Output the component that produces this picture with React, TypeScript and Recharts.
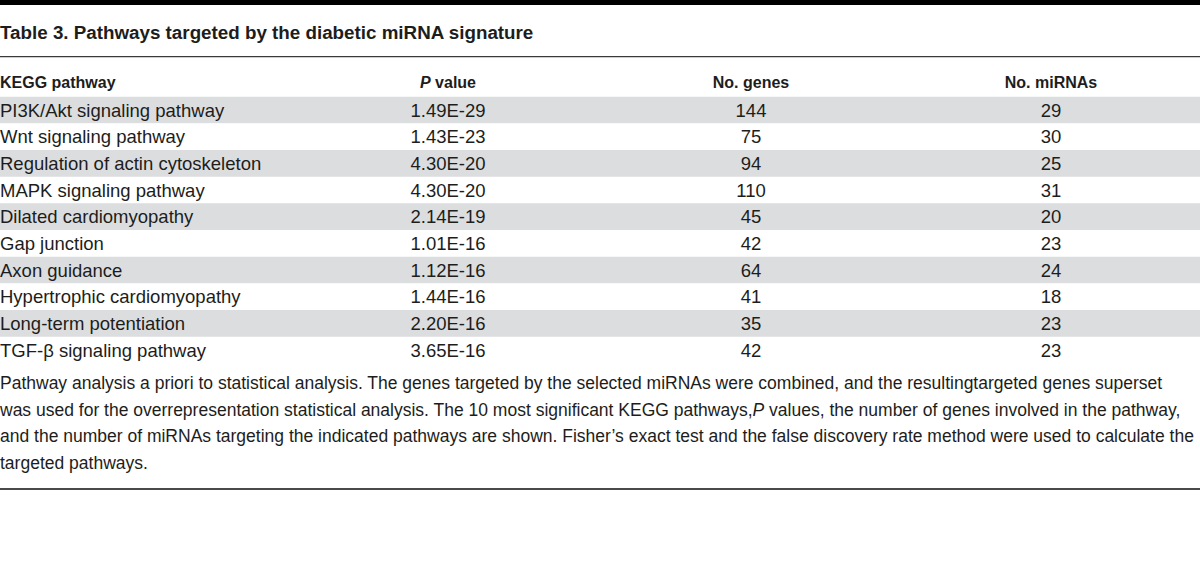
import React from 'react';
import { BarChart, Bar, XAxis, YAxis, Cell, LabelList, Customized } from 'recharts';

const title = 'Table 3. Pathways targeted by the diabetic miRNA signature';
const headers = ['KEGG pathway', 'value', 'No. genes', 'No. miRNAs'];
const pathways = [
  'PI3K/Akt signaling pathway',
  'Wnt signaling pathway',
  'Regulation of actin cytoskeleton',
  'MAPK signaling pathway',
  'Dilated cardiomyopathy',
  'Gap junction',
  'Axon guidance',
  'Hypertrophic cardiomyopathy',
  'Long-term potentiation',
  'TGF-\u03b2 signaling pathway',
];
const pValues = ['1.49E-29', '1.43E-23', '4.30E-20', '4.30E-20', '2.14E-19', '1.01E-16', '1.12E-16', '1.44E-16', '2.20E-16', '3.65E-16'];
const genes = [144, 75, 94, 110, 45, 42, 64, 41, 35, 42];
const mirnas = [29, 30, 25, 31, 20, 23, 24, 18, 23, 23];
const footnote1 = 'Pathway analysis a priori to statistical analysis. The genes targeted by the selected miRNAs were combined, and the resultingtargeted genes superset';
const footnote2a = 'was used for the overrepresentation statistical analysis. The 10 most significant KEGG pathways,';
const footnote2b = ' values, the number of genes involved in the pathway,';
const footnote3 = 'and the number of miRNAs targeting the indicated pathways are shown. Fisher\u2019s exact test and the false discovery rate method were used to calculate the';
const footnote4 = 'targeted pathways.';

const rows = pathways.map((p, i) => ({
  pathway: p,
  pValue: pValues[i],
  genes: genes[i],
  mirnas: mirnas[i],
  row: 1,
}));

const FONT = "'Liberation Sans', Arial, sans-serif";
const INK = '#1d1d1b';
const SHADE = '#dcdddf';
const COL_P = 448;
const COL_G = 751;
const COL_M = 1051;

const RowLabels = (props: any) => {
  const { y, height, index } = props;
  const r = rows[index];
  if (!r) return null;
  const by = Number(y) + Number(height) / 2 + 6.4;
  const common = { fontFamily: FONT, fontSize: 18.5, fill: INK };
  return (
    <g>
      <text x={0} y={by} textAnchor="start" {...common}>{r.pathway}</text>
      <text x={COL_P} y={by} textAnchor="middle" {...common}>{r.pValue}</text>
      <text x={COL_G} y={by} textAnchor="middle" {...common}>{r.genes}</text>
      <text x={COL_M} y={by} textAnchor="middle" {...common}>{r.mirnas}</text>
    </g>
  );
};

const Decorations = () => {
  const hdr = { fontFamily: FONT, fontSize: 16, fontWeight: 700, fill: INK };
  const fn = { fontFamily: FONT, fontSize: 17.5, fill: INK };
  return (
    <g>
      <rect x={0} y={0} width={1200} height={5} fill="#000" />
      <text x={0} y={39} fontFamily={FONT} fontSize={18.8} fontWeight={700} fill={INK}>{title}</text>
      <line x1={0} x2={1200} y1={56.7} y2={56.7} stroke="#3a3a3a" strokeWidth={1.3} />
      <text x={0} y={88} textAnchor="start" {...hdr}>{headers[0]}</text>
      <text x={COL_P} y={88} textAnchor="middle" {...hdr}>
        <tspan fontStyle="italic">P</tspan> {headers[1]}
      </text>
      <text x={COL_G} y={88} textAnchor="middle" {...hdr}>{headers[2]}</text>
      <text x={COL_M} y={88} textAnchor="middle" {...hdr}>{headers[3]}</text>
      <text x={0} y={389} {...fn}>{footnote1}</text>
      <text x={0} y={416} {...fn}>
        {footnote2a}
        <tspan fontStyle="italic">P</tspan>
        {footnote2b}
      </text>
      <text x={0} y={442} {...fn}>{footnote3}</text>
      <text x={0} y={469} {...fn}>{footnote4}</text>
      <line x1={0} x2={1200} y1={489} y2={489} stroke="#4a4a4a" strokeWidth={2} />
    </g>
  );
};

export default function App() {
  return (
    <div style={{ position: 'absolute', left: 0, top: 0, width: 1200, height: 566, background: '#fff' }}>
      <BarChart
        width={1200}
        height={566}
        data={rows}
        layout="vertical"
        margin={{ top: 96.67, right: 0, bottom: 202.67, left: 0 }}
        barCategoryGap={0}
      >
        <XAxis type="number" domain={[0, 1]} hide />
        <YAxis type="category" dataKey="pathway" hide />
        <Bar dataKey="row" isAnimationActive={false}>
          {rows.map((r, i) => (
            <Cell key={r.pathway} fill={i % 2 === 0 ? SHADE : '#ffffff'} />
          ))}
          <LabelList dataKey="row" content={<RowLabels />} />
        </Bar>
        <Customized component={Decorations} />
      </BarChart>
    </div>
  );
}
